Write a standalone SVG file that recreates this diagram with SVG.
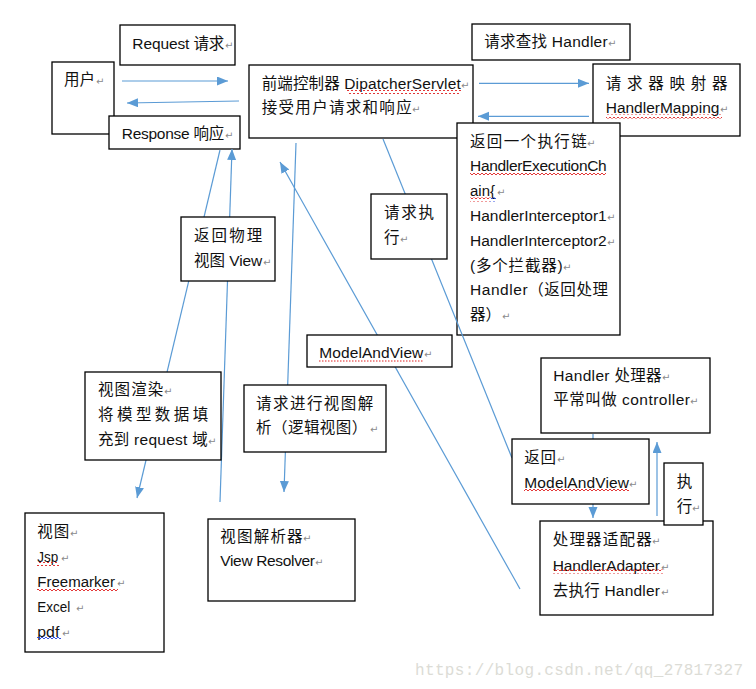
<svg xmlns="http://www.w3.org/2000/svg" width="756" height="689" viewBox="0 0 756 689">
<style>
.box{fill:#fff;stroke:#000;stroke-width:1.3}
.t{font-family:"Liberation Sans","Noto Sans CJK SC",sans-serif;font-size:15.5px;fill:#111}
.pm{font-family:"DejaVu Sans",sans-serif;font-size:10px;fill:#8a8a8a}
.c{stroke:#5B9BD5;stroke-width:1.2;fill:none}
.arr{marker-end:url(#ah)}
.wr{fill:url(#waveR)}
.wb{fill:url(#waveB)}
.wm{font-family:"Liberation Mono",monospace;font-size:16px;fill:#dcdcd6}
</style>
<defs>
<marker id="ah" markerUnits="userSpaceOnUse" markerWidth="12" markerHeight="10" refX="11" refY="4.5" orient="auto">
<path d="M0,0 L11,4.5 L0,9 z" fill="#5B9BD5"/>
</marker>
<pattern id="waveR" patternUnits="userSpaceOnUse" width="4" height="4">
<polyline points="0,3 2,1 4,3" fill="none" stroke="#e02020" stroke-width="0.9"/>
</pattern>
<pattern id="waveB" patternUnits="userSpaceOnUse" width="4" height="4">
<polyline points="0,3 2,1 4,3" fill="none" stroke="#2040e0" stroke-width="0.9"/>
</pattern>
</defs>
<rect width="756" height="689" fill="#fff"/>

<g id="user">
<rect class="box" x="52" y="62" width="62" height="72"/>
<text class="t" x="64" y="85" textLength="31">用户</text><text class="pm" x="96" y="85">↵</text>
</g>
<g id="request-label">
<rect class="box" x="120" y="25" width="115" height="40"/>
<text class="t" x="132.3" y="49" textLength="92">Request 请求</text><text class="pm" x="225" y="49">↵</text>
</g>
<g id="response-label">
<rect class="box" x="109" y="116" width="131" height="33"/>
<text class="t" x="121.7" y="138.5" textLength="102.6">Response 响应</text><text class="pm" x="225" y="138.5">↵</text>
</g>
<g id="dispatcher">
<rect class="box" x="249" y="65" width="224" height="73"/>
<text class="t" x="261.7" y="88.5" textLength="199">前端控制器 DipatcherServlet</text><text class="pm" x="461" y="88.5">↵</text>
<rect class="wr" x="347" y="90" width="114" height="4"/>
<text class="t" x="261.7" y="112.5" textLength="150">接受用户请求和响应</text><text class="pm" x="412" y="112.5">↵</text>
</g>
<g id="find-handler-label">
<rect class="box" x="472" y="24" width="158" height="36"/>
<text class="t" x="484.3" y="46.5" textLength="123.3">请求查找 Handler</text><text class="pm" x="608" y="46.5">↵</text>
</g>
<g id="handler-mapping">
<rect class="box" x="593" y="64" width="147" height="72"/>
<text class="t" x="605.7" y="88.5" textLength="121.7">请求器映射器</text>
<text class="t" x="605.7" y="112.8" textLength="113.7">HandlerMapping</text><text class="pm" x="720" y="112.8">↵</text>
<rect class="wr" x="606" y="114.5" width="116" height="4"/>
</g>
<g id="execution-chain">
<rect class="box" x="457" y="123" width="163" height="212"/>
<text class="t" x="470" y="146.5" textLength="116.7">返回一个执行链</text><text class="pm" x="587" y="146.5">↵</text>
<text class="t" x="470" y="171.3" textLength="136.7">HandlerExecutionCh</text>
<rect class="wr" x="470" y="172.5" width="136" height="4"/>
<text class="t" x="470" y="196.1" textLength="25" lengthAdjust="spacingAndGlyphs">ain{</text><text class="pm" x="497" y="196.1">↵</text>
<rect class="wr" x="470" y="197.5" width="20" height="4"/>
<rect class="wb" x="490" y="197.5" width="6" height="4"/>
<text class="t" x="470" y="220.9" textLength="136.7">HandlerInterceptor1</text><text class="pm" x="607" y="220.9">↵</text>
<text class="t" x="470" y="245.7" textLength="136.7">HandlerInterceptor2</text><text class="pm" x="607" y="245.7">↵</text>
<text class="t" x="470" y="270.5" textLength="92.7">(多个拦截器)</text><text class="pm" x="563" y="270.5">↵</text>
<text class="t" x="470" y="295.3" textLength="138">Handler（返回处理</text>
<text class="t" x="470" y="320.1">器）</text><text class="pm" x="502" y="320.1">↵</text>
</g>

<g id="connectors">
<line class="c arr" x1="122" y1="81" x2="228" y2="81"/>
<line class="c arr" x1="239" y1="101" x2="127" y2="103"/>
<line class="c arr" x1="479" y1="83.3" x2="589" y2="83.3"/>
<line class="c arr" x1="589" y1="116.3" x2="478" y2="116.3"/>
<line class="c arr" x1="220" y1="150" x2="137" y2="498"/>
<line class="c arr" x1="220" y1="502" x2="232" y2="149"/>
<line class="c arr" x1="296" y1="143" x2="284" y2="492"/>
<line class="c arr" x1="520" y1="589" x2="280" y2="162"/>
<line class="c" x1="383" y1="139" x2="512" y2="458"/>
<line class="c arr" x1="593" y1="434" x2="593" y2="518"/>
<line class="c arr" x1="657" y1="516" x2="657" y2="442"/>
</g>

<g id="request-execute-label">
<rect class="box" x="371" y="194" width="76" height="65"/>
<text class="t" x="384" y="217.5" textLength="50">请求执</text>
<text class="t" x="384" y="242.5">行</text><text class="pm" x="400" y="242.5">↵</text>
</g>
<g id="return-view-label">
<rect class="box" x="181" y="217" width="94" height="64"/>
<text class="t" x="194" y="240.8" textLength="68.3">返回物理</text>
<text class="t" x="194" y="266" textLength="68.3">视图 View</text><text class="pm" x="263" y="266">↵</text>
</g>
<g id="modelandview-label">
<rect class="box" x="307" y="335" width="145" height="32"/>
<text class="t" x="319.3" y="358.4" textLength="104">ModelAndView</text><text class="pm" x="424" y="358.4">↵</text>
<line x1="319" y1="361" x2="423" y2="361" stroke="#e02020" stroke-width="1" stroke-dasharray="1.5,1.5"/>
</g>
<g id="render-label">
<rect class="box" x="85" y="372" width="136" height="88"/>
<text class="t" x="98" y="395.2" textLength="65.3">视图渲染</text><text class="pm" x="164" y="395.2">↵</text>
<text class="t" x="98" y="420" textLength="110.3">将模型数据填</text>
<text class="t" x="98" y="444.5" textLength="109.7">充到 request 域</text><text class="pm" x="208" y="444.5">↵</text>
</g>
<g id="resolve-label">
<rect class="box" x="244" y="385" width="142" height="67"/>
<text class="t" x="256" y="408.5" textLength="117.3">请求进行视图解</text>
<text class="t" x="256" y="432.5" textLength="111.3">析（逻辑视图）</text><text class="pm" x="370" y="432.5">↵</text>
</g>
<g id="handler">
<rect class="box" x="541" y="358" width="169" height="75"/>
<text class="t" x="553.3" y="381" textLength="108.3">Handler 处理器</text><text class="pm" x="662" y="381">↵</text>
<text class="t" x="553.3" y="405" textLength="136.7">平常叫做 controller</text><text class="pm" x="690" y="405">↵</text>
</g>
<g id="return-mav-label">
<rect class="box" x="512" y="439" width="137" height="65"/>
<text class="t" x="524.3" y="463" textLength="31.7">返回</text><text class="pm" x="557" y="463">↵</text>
<text class="t" x="524.3" y="488.4" textLength="104.7">ModelAndView</text><text class="pm" x="629" y="488.4">↵</text>
<rect class="wr" x="524" y="489" width="105" height="4"/>
</g>
<g id="handler-adapter">
<rect class="box" x="540" y="521" width="173" height="94"/>
<text class="t" x="552.7" y="544.5" textLength="99">处理器适配器</text><text class="pm" x="652" y="544.5">↵</text>
<text class="t" x="552.7" y="570.5" textLength="107.3">HandlerAdapter</text><text class="pm" x="661" y="570.5">↵</text>
<rect class="wr" x="553" y="569.5" width="110" height="4"/>
<text class="t" x="552.7" y="595.5" textLength="107.3">去执行 Handler</text><text class="pm" x="661" y="595.5">↵</text>
</g>
<g id="execute-label">
<rect class="box" x="664" y="463" width="39" height="62"/>
<text class="t" x="676.7" y="486.5">执</text>
<text class="t" x="676.7" y="511.5">行</text><text class="pm" x="692" y="511.5">↵</text>
</g>
<g id="view">
<rect class="box" x="25" y="513" width="139" height="139"/>
<text class="t" x="37.3" y="536.5" textLength="32">视图</text><text class="pm" x="70" y="536.5">↵</text>
<text class="t" x="37.3" y="561.5" textLength="21" lengthAdjust="spacingAndGlyphs">Jsp</text><text class="pm" x="61" y="561.5">↵</text>
<rect class="wr" x="37" y="562" width="22" height="4"/>
<text class="t" x="37.3" y="586.5" textLength="77.7" lengthAdjust="spacingAndGlyphs">Freemarker</text><text class="pm" x="117" y="586.5">↵</text>
<rect class="wr" x="37" y="587" width="81" height="4"/>
<text class="t" x="37.3" y="611.5" textLength="33" lengthAdjust="spacingAndGlyphs">Excel</text><text class="pm" x="76" y="611.5">↵</text>
<text class="t" x="37.3" y="636.5" textLength="22" lengthAdjust="spacingAndGlyphs">pdf</text><text class="pm" x="62" y="636.5">↵</text>
<rect class="wb" x="37" y="637" width="24" height="4"/>
</g>
<g id="view-resolver">
<rect class="box" x="208" y="519" width="147" height="82"/>
<text class="t" x="220.3" y="541.5" textLength="82.3">视图解析器</text><text class="pm" x="303" y="541.5">↵</text>
<text class="t" x="220.3" y="566" textLength="94.7">View Resolver</text><text class="pm" x="315" y="566">↵</text>
</g>
<text class="wm" x="415" y="675" textLength="328">https://blog.csdn.net/qq_27817327</text>
</svg>
